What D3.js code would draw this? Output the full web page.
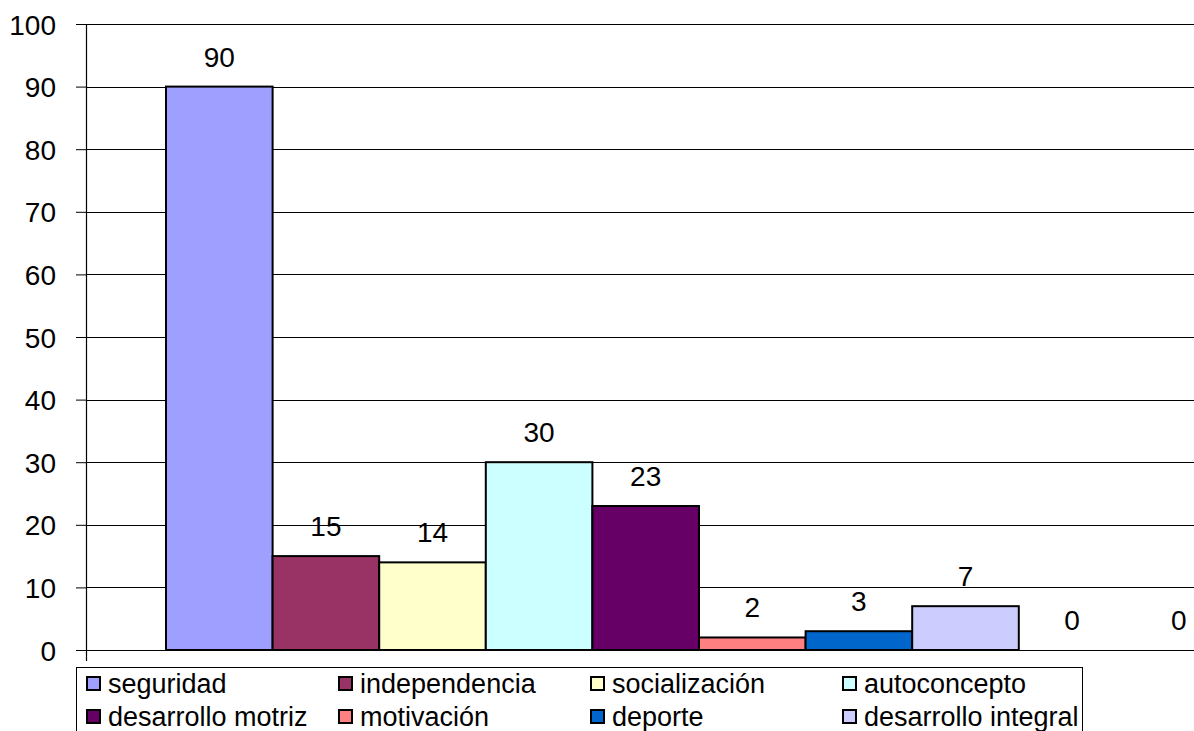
<!DOCTYPE html>
<meta charset="utf-8">
<head>
<script src="https://d3js.org/d3.v7.min.js"></script>
<style>
  body { margin: 0; background: #fff; }
  text { font-family: "Liberation Sans", Arial, sans-serif; fill: #000; }
</style>
</head>
<body>
<div id="my_dataviz"></div>
<script>

    // data
    var series = ["seguridad", "independencia", "socialización", "autoconcepto",
                  "desarrollo motriz", "motivación", "deporte", "desarrollo integral", "", ""];
    var values = [90, 15, 14, 30, 23, 2, 3, 7, 0, 0];
    var colors = ["#9f9fff", "#993366", "#ffffcc", "#ccffff",
                  "#660066", "#ff8080", "#0066cc", "#ccccff", "#ffffff", "#ffffff"];
    var yTicks = [0, 10, 20, 30, 40, 50, 60, 70, 80, 90, 100];

    var width = 1194, height = 731;
    var axisX = 86, plotRight = 1194;

    var svg = d3.select("#my_dataviz")
      .append("svg")
        .attr("width", width)
        .attr("height", height);

    var y = d3.scaleLinear()
      .domain([0, 100])
      .range([650, 24]);

    // one group of bars, it runs off the right edge like the original
    var x = d3.scaleBand()
      .domain(d3.range(series.length))
      .range([166, 166 + 106.6 * series.length])
      .paddingInner(0);

    // gridlines
    svg.append("g")
      .selectAll("line")
      .data(yTicks)
      .enter()
      .append("line")
        .attr("x1", axisX)
        .attr("x2", plotRight)
        .attr("y1", function (d) { return Math.round(y(d)) + 0.5; })
        .attr("y2", function (d) { return Math.round(y(d)) + 0.5; })
        .style("stroke", "#000")
        .style("stroke-width", 1.2);

    // Y axis
    var yAxis = svg.append("g")
      .attr("transform", "translate(" + axisX + ",0)")
      .call(d3.axisLeft(y).tickValues(yTicks).tickSize(10).tickPadding(20));
    yAxis.select(".domain").remove();
    yAxis.selectAll(".tick line").style("stroke", "#000");
    yAxis.selectAll("text")
      .style("font-size", "28px")
      .style("font-family", "'Liberation Sans', Arial, sans-serif")
      .attr("dy", "0.36em");

    svg.append("line")
      .attr("x1", axisX + 0.5).attr("x2", axisX + 0.5)
      .attr("y1", y(100)).attr("y2", 661)
      .style("stroke", "#000")
      .style("stroke-width", 1.2);

    // bars
    svg.append("g")
      .selectAll("rect")
      .data(values.map(function (v, i) { return {i: i, v: v}; }).filter(function (d) { return d.v > 0; }))
      .enter()
      .append("rect")
        .attr("x", function (d) { return x(d.i); })
        .attr("y", function (d) { return y(d.v); })
        .attr("width", x.bandwidth())
        .attr("height", function (d) { return y(0) - y(d.v); })
        .style("fill", function (d) { return colors[d.i]; })
        .style("stroke", "#000")
        .style("stroke-width", 2);

    // value labels
    svg.append("g")
      .selectAll("text")
      .data(values)
      .enter()
      .append("text")
        .attr("x", function (d, i) { return x(i) + x.bandwidth() / 2; })
        .attr("y", function (d) { return y(d) - 20; })
        .attr("text-anchor", "middle")
        .style("font-size", "28px")
        .text(function (d) { return d; });

    // legend
    var legendItems = series.map(function (s, i) { return {name: s, color: colors[i]}; })
      .filter(function (d) { return d.name !== ""; });

    svg.append("rect")
      .attr("x", 76.5).attr("y", 667.5)
      .attr("width", 1006).attr("height", 80)
      .style("fill", "#fff")
      .style("stroke", "#000")
      .style("stroke-width", 1);

    var legend = svg.append("g")
      .selectAll("g")
      .data(legendItems)
      .enter()
      .append("g")
        .attr("transform", function (d, i) {
          return "translate(" + (87 + (i % 4) * 252) + "," + (677 + Math.floor(i / 4) * 33) + ")";
        });

    legend.append("rect")
      .attr("width", 13).attr("height", 13)
      .style("fill", function (d) { return d.color; })
      .style("stroke", "#000")
      .style("stroke-width", 2);

    legend.append("text")
      .attr("x", 21)
      .attr("y", 16)
      .style("font-size", "27px")
      .text(function (d) { return d.name; });

</script>
</body>
</html>
